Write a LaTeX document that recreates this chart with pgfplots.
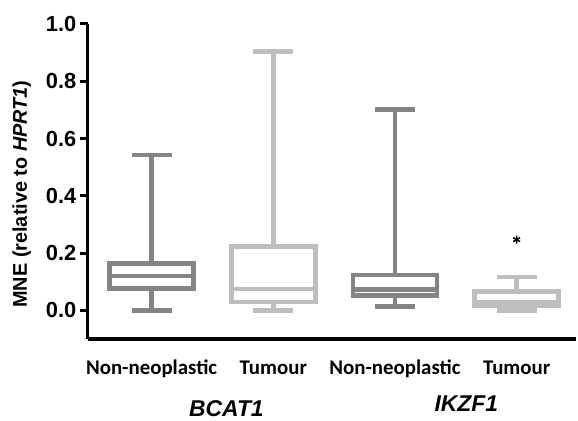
\documentclass[border=0pt]{standalone}
\usepackage{fontspec}
\setmainfont{Liberation Sans}
\newfontfamily\catfont{Carlito}
\usepackage{pgfplots}
\pgfplotsset{compat=1.18}
\usepgfplotslibrary{statistics}

\definecolor{darkbox}{RGB}{132,132,132}
\definecolor{lightbox}{RGB}{190,190,190}

\begin{document}
\begin{tikzpicture}
\begin{axis}[
    name=ax,
    scale only axis,
    width=490bp, height=316bp,
    xmin=-0.525, xmax=3.49,
    ymin=-0.1, ymax=1.0,
    boxplot/draw direction=y,
    axis lines=left,
    axis line style={line width=3.5bp, -, black},
    xtick={0,1,2,3},
    xticklabels={Non-neoplastic, Tumour, Non-neoplastic, Tumour},
    x tick style={draw=none},
    ytick={0,0.2,0.4,0.6,0.8,1.0},
    y tick style={line width=3bp, black},
    tick align=outside,
    major tick length=8bp,
    /pgf/number format/fixed,
    /pgf/number format/fixed zerofill,
    /pgf/number format/precision=1,
    /pgf/number format/assume math mode=true,
    yticklabel style={font=\fontsize{22}{24}\selectfont\bfseries},
    xticklabel style={font=\catfont\fontsize{21}{23}\selectfont\bfseries,
        text height=14bp, text depth=5bp, yshift=-10bp},
    ylabel={MNE (relative to \textit{HPRT1})},
    ylabel style={font=\fontsize{20}{22}\selectfont\bfseries, at={(axis description cs:-0.135,0.46)}, anchor=center},
    clip=false,
]
% Non-neoplastic BCAT1
\addplot[boxplot prepared={draw position=0, lower whisker=0.0, lower quartile=0.076,
    median=0.119, upper quartile=0.163, upper whisker=0.543,
    box extend=0.69, whisker extend=0.33}, draw=darkbox, line width=4.5bp] coordinates {};
% Tumour BCAT1
\addplot[boxplot prepared={draw position=1, lower whisker=0.0, lower quartile=0.029,
    median=0.075, upper quartile=0.223, upper whisker=0.903,
    box extend=0.69, whisker extend=0.33}, draw=lightbox, line width=4.5bp] coordinates {};
% Non-neoplastic IKZF1
\addplot[boxplot prepared={draw position=2, lower whisker=0.014, lower quartile=0.051,
    median=0.072, upper quartile=0.123, upper whisker=0.702,
    box extend=0.69, whisker extend=0.33}, draw=darkbox, line width=4.5bp] coordinates {};
% Tumour IKZF1
\addplot[boxplot prepared={draw position=3, lower whisker=0.0, lower quartile=0.016,
    median=0.027, upper quartile=0.066, upper whisker=0.116,
    box extend=0.69, whisker extend=0.33}, draw=lightbox, line width=4.5bp] coordinates {};
% significance marker
\addplot[only marks, mark=asterisk, mark size=4bp, black, line width=1.5bp] coordinates {(3,0.247)};

\node[font=\fontsize{23}{25}\selectfont\bfseries\itshape] at (axis description cs:0.284,-0.222) {BCAT1};
\node[font=\fontsize{23}{25}\selectfont\bfseries\itshape] at (axis description cs:0.775,-0.206) {IKZF1};
\end{axis}
\path (ax.south west) ++(-88bp,-81bp) rectangle ++(578bp,421bp);
\end{tikzpicture}
\end{document}
